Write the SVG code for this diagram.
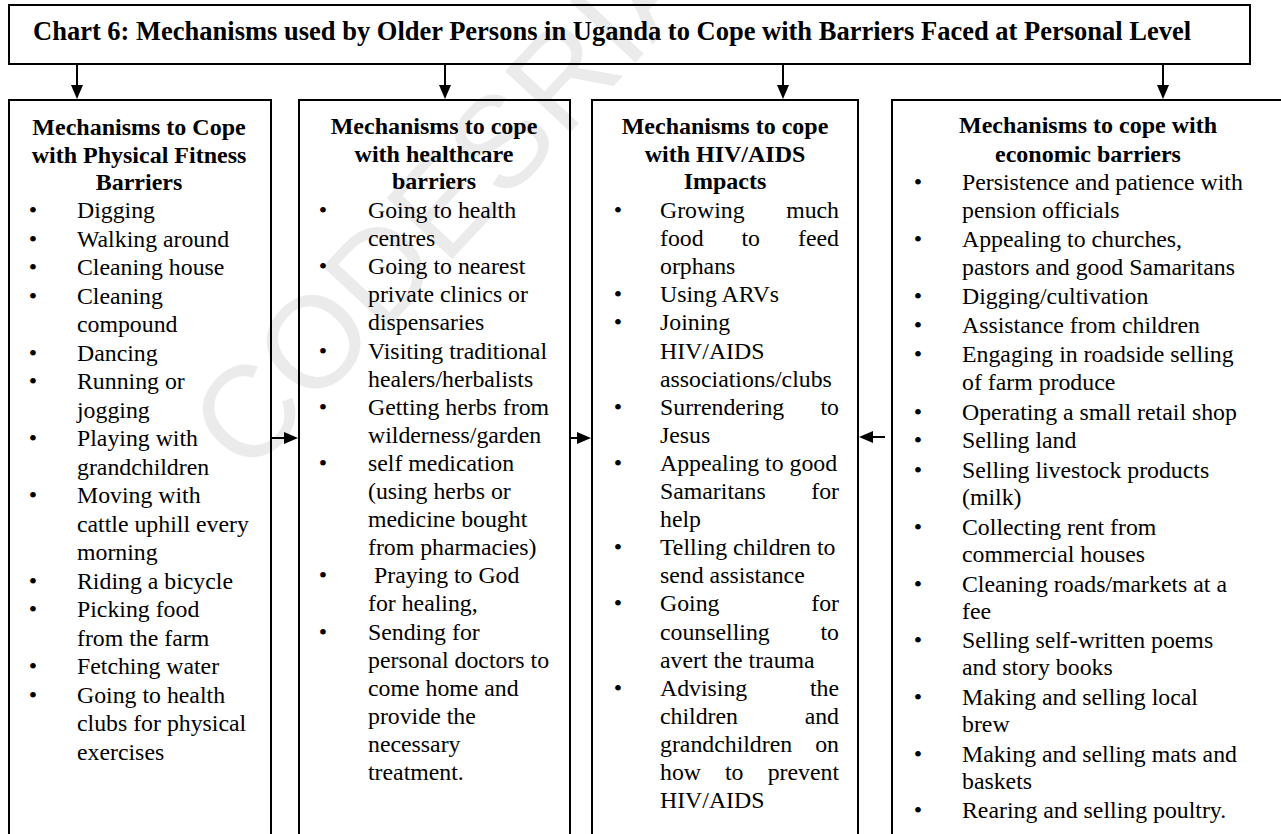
<svg xmlns="http://www.w3.org/2000/svg" width="1281" height="834" viewBox="0 0 1281 834">
<defs>
<style>
.box{fill:none;stroke:#000;stroke-width:2}
.t{font-family:"Liberation Serif","Times New Roman",serif;font-size:23.8px;fill:#000}
.h{font-family:"Liberation Serif","Times New Roman",serif;font-size:24px;font-weight:bold;fill:#000;text-anchor:middle}
.title{font-family:"Liberation Serif","Times New Roman",serif;font-size:26.5px;font-weight:bold;fill:#000}
.b{font-family:"Liberation Serif","Times New Roman",serif;font-size:24px;fill:#000;text-anchor:middle}
.e{text-anchor:end}
.wm{font-family:"Liberation Sans",Arial,sans-serif;font-size:130px;fill:#ebebeb}
.c{stroke:#000;stroke-width:2;fill:none;marker-end:url(#ah)}
</style>
<marker id="ah" markerWidth="14" markerHeight="12" viewBox="0 0 14 12" refX="8" refY="6" orient="auto" markerUnits="userSpaceOnUse">
<path d="M0,0 L14,6 L0,12 z" fill="#000"/>
</marker>
</defs>
<rect width="1281" height="834" fill="#fff"/>
<text class="wm" transform="translate(248,478) rotate(-47)">CODESRIA</text>

<g id="title">
<rect class="box" x="9" y="5" width="1241" height="59"/>
<text class="title" x="33" y="40">Chart 6: Mechanisms used by Older Persons in Uganda to Cope with Barriers Faced at Personal Level</text>
</g>

<g id="physical">
<rect class="box" x="9" y="100" width="262" height="760"/>
<text class="h" x="139" y="135">Mechanisms to Cope</text>
<text class="h" x="139" y="163">with Physical Fitness</text>
<text class="h" x="139" y="190">Barriers</text>
<g class="b">
<text x="33" y="218">•</text><text x="33" y="246.5">•</text><text x="33" y="275">•</text><text x="33" y="303.5">•</text>
<text x="33" y="360.5">•</text><text x="33" y="389">•</text><text x="33" y="446">•</text><text x="33" y="503">•</text>
<text x="33" y="588.5">•</text><text x="33" y="617">•</text><text x="33" y="674">•</text><text x="33" y="702.5">•</text>
</g>
<g class="t">
<text x="77" y="218">Digging</text>
<text x="77" y="246.5">Walking around</text>
<text x="77" y="275">Cleaning house</text>
<text x="77" y="303.5">Cleaning</text>
<text x="77" y="332">compound</text>
<text x="77" y="360.5">Dancing</text>
<text x="77" y="389">Running or</text>
<text x="77" y="417.5">jogging</text>
<text x="77" y="446">Playing with</text>
<text x="77" y="474.5">grandchildren</text>
<text x="77" y="503">Moving with</text>
<text x="77" y="531.5">cattle uphill every</text>
<text x="77" y="560">morning</text>
<text x="77" y="588.5">Riding a bicycle</text>
<text x="77" y="617">Picking food</text>
<text x="77" y="645.5">from the farm</text>
<text x="77" y="674">Fetching water</text>
<text x="77" y="702.5">Going to health</text>
<text x="77" y="731">clubs for physical</text>
<text x="77" y="759.5">exercises</text>
</g>
</g>

<g id="healthcare">
<rect class="box" x="299" y="100" width="271" height="760"/>
<text class="h" x="434" y="134">Mechanisms to cope</text>
<text class="h" x="434" y="162">with healthcare</text>
<text class="h" x="434" y="189">barriers</text>
<g class="b">
<text x="323" y="218">•</text><text x="323" y="274.2">•</text><text x="323" y="358.5">•</text><text x="323" y="414.7">•</text>
<text x="323" y="470.9">•</text><text x="323" y="583.3">•</text><text x="323" y="639.5">•</text>
</g>
<g class="t">
<text x="368" y="218">Going to health</text>
<text x="368" y="246.1">centres</text>
<text x="368" y="274.2">Going to nearest</text>
<text x="368" y="302.3">private clinics or</text>
<text x="368" y="330.4">dispensaries</text>
<text x="368" y="358.5">Visiting traditional</text>
<text x="368" y="386.6">healers/herbalists</text>
<text x="368" y="414.7">Getting herbs from</text>
<text x="368" y="442.8">wilderness/garden</text>
<text x="368" y="470.9">self medication</text>
<text x="368" y="499">(using herbs or</text>
<text x="368" y="527.1">medicine bought</text>
<text x="368" y="555.2">from pharmacies)</text>
<text x="374" y="583.3">Praying to God</text>
<text x="368" y="611.4">for healing,</text>
<text x="368" y="639.5">Sending for</text>
<text x="368" y="667.6">personal doctors to</text>
<text x="368" y="695.7">come home and</text>
<text x="368" y="723.8">provide the</text>
<text x="368" y="751.9">necessary</text>
<text x="368" y="780">treatment.</text>
</g>
</g>

<g id="hivaids">
<rect class="box" x="592" y="100" width="266" height="760"/>
<text class="h" x="725" y="134">Mechanisms to cope</text>
<text class="h" x="725" y="162">with HIV/AIDS</text>
<text class="h" x="725" y="189">Impacts</text>
<g class="b">
<text x="618" y="218">•</text><text x="618" y="302.3">•</text><text x="618" y="330.4">•</text><text x="618" y="414.7">•</text>
<text x="618" y="470.9">•</text><text x="618" y="555.2">•</text><text x="618" y="611.4">•</text><text x="618" y="695.7">•</text>
</g>
<g class="t">
<text x="660" y="218">Growing</text><text class="e" x="839" y="218">much</text>
<text x="660" y="246.1">food</text><text x="741.5" y="246.1">to</text><text class="e" x="839" y="246.1">feed</text>
<text x="660" y="274.2">orphans</text>
<text x="660" y="302.3">Using ARVs</text>
<text x="660" y="330.4">Joining</text>
<text x="660" y="358.5">HIV/AIDS</text>
<text x="660" y="386.6">associations/clubs</text>
<text x="660" y="414.7">Surrendering</text><text class="e" x="839" y="414.7">to</text>
<text x="660" y="442.8">Jesus</text>
<text x="660" y="470.9">Appealing to good</text>
<text x="660" y="499">Samaritans</text><text class="e" x="839" y="499">for</text>
<text x="660" y="527.1">help</text>
<text x="660" y="555.2">Telling children to</text>
<text x="660" y="583.3">send assistance</text>
<text x="660" y="611.4">Going</text><text class="e" x="839" y="611.4">for</text>
<text x="660" y="639.5">counselling</text><text class="e" x="839" y="639.5">to</text>
<text x="660" y="667.6">avert the trauma</text>
<text x="660" y="695.7">Advising</text><text class="e" x="839" y="695.7">the</text>
<text x="660" y="723.8">children</text><text class="e" x="839" y="723.8">and</text>
<text x="660" y="751.9">grandchildren</text><text class="e" x="839" y="751.9">on</text>
<text x="660" y="780">how</text><text x="725" y="780">to</text><text class="e" x="839" y="780">prevent</text>
<text x="660" y="808.1">HIV/AIDS</text>
</g>
</g>

<g id="economic">
<rect class="box" x="892" y="100" width="420" height="760"/>
<text class="h" x="1088" y="133">Mechanisms to cope with</text>
<text class="h" x="1088" y="162">economic barriers</text>
<g class="b">
<text x="918" y="190">•</text><text x="918" y="247">•</text><text x="918" y="304">•</text><text x="918" y="333">•</text>
<text x="918" y="362">•</text><text x="918" y="420">•</text><text x="918" y="448">•</text><text x="918" y="478">•</text>
<text x="918" y="535">•</text><text x="918" y="592">•</text><text x="918" y="648">•</text><text x="918" y="705">•</text>
<text x="918" y="762">•</text><text x="918" y="818">•</text>
</g>
<g class="t">
<text x="962" y="190">Persistence and patience with</text>
<text x="962" y="218">pension officials</text>
<text x="962" y="247">Appealing to churches,</text>
<text x="962" y="275">pastors and good Samaritans</text>
<text x="962" y="304">Digging/cultivation</text>
<text x="962" y="333">Assistance from children</text>
<text x="962" y="362">Engaging in roadside selling</text>
<text x="962" y="390">of farm produce</text>
<text x="962" y="420">Operating a small retail shop</text>
<text x="962" y="448">Selling land</text>
<text x="962" y="478">Selling livestock products</text>
<text x="962" y="505">(milk)</text>
<text x="962" y="535">Collecting rent from</text>
<text x="962" y="562">commercial houses</text>
<text x="962" y="592">Cleaning roads/markets at a</text>
<text x="962" y="619">fee</text>
<text x="962" y="648">Selling self-written poems</text>
<text x="962" y="675">and story books</text>
<text x="962" y="705">Making and selling local</text>
<text x="962" y="732">brew</text>
<text x="962" y="762">Making and selling mats and</text>
<text x="962" y="789">baskets</text>
<text x="962" y="818">Rearing and selling poultry.</text>
</g>
</g>

<g id="connectors">
<line class="c" x1="77" y1="64" x2="77" y2="93"/>
<line class="c" x1="445" y1="64" x2="445" y2="93"/>
<line class="c" x1="783" y1="64" x2="783" y2="93"/>
<line class="c" x1="1163" y1="64" x2="1163" y2="93"/>
<line class="c" x1="271" y1="438" x2="292" y2="438"/>
<line class="c" x1="570" y1="438" x2="585" y2="438"/>
<line class="c" x1="885" y1="437" x2="865" y2="437"/>
</g>
</svg>
